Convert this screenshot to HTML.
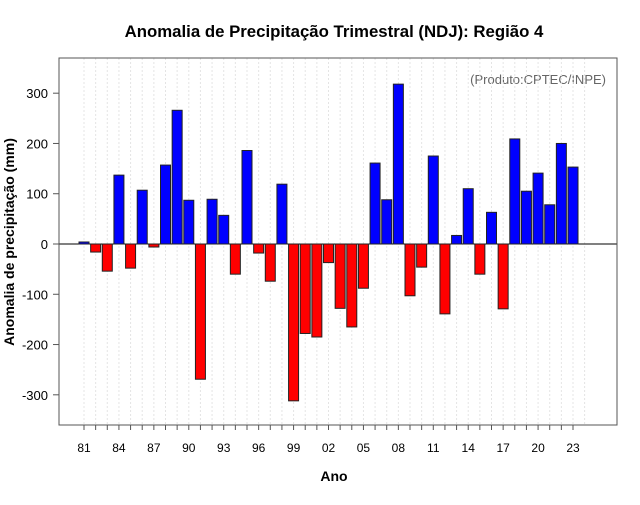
<!DOCTYPE html>
<html><head><meta charset="utf-8"><style>
body{margin:0;background:#fff;font-family:"Liberation Sans",sans-serif}
</style></head><body>
<svg id="c" width="640" height="500" xmlns="http://www.w3.org/2000/svg" font-family="Liberation Sans, sans-serif">
<text x="334" y="37" text-anchor="middle" font-size="16.8" font-weight="bold">Anomalia de Precipitação Trimestral (NDJ): Região 4</text>
<text x="334" y="481" text-anchor="middle" font-size="14" font-weight="bold">Ano</text>
<text transform="translate(14,242) rotate(-90)" text-anchor="middle" font-size="14" font-weight="bold">Anomalia de precipitação (mm)</text>
<text x="606" y="84" text-anchor="end" font-size="13" fill="#666">(Produto:CPTEC/INPE)</text>
<g id="grid"></g><g id="bars"></g><g id="axes"></g>
<rect x="59" y="58" width="558" height="367" fill="none" stroke="#555"/>
</svg>
<script>
const years=[81,82,83,84,85,86,87,88,89,90,91,92,93,94,95,96,97,98,99,0,1,2,3,4,5,6,7,8,9,10,11,12,13,14,15,16,17,18,19,20,21,22,23];
const values=[4,-16,-54,137,-48,107,-6,157,266,87,-269,89,57,-60,186,-18,-74,119,-312,-178,-185,-37,-128,-165,-88,161,88,318,-103,-46,175,-139,17,110,-60,63,-129,209,105,141,78,200,153];
const yTicks=[-300,-200,-100,0,100,200,300];
const NS="http://www.w3.org/2000/svg";
const xs=i=>84+i*11.643, ys=v=>244-v*0.5027;
function mk(t,a,p){const e=document.createElementNS(NS,t);for(const k in a)e.setAttribute(k,a[k]);p.appendChild(e);return e;}
const g=document.getElementById('grid'),b=document.getElementById('bars'),ax=document.getElementById('axes');
years.forEach((y,i)=>{
 const l=mk('line',{x1:xs(i),x2:xs(i),y1:58,y2:425,stroke:'#e4e4e4','stroke-dasharray':'2,2'},g);
 
 
});
mk('line',{x1:xs(42)+11.6,x2:xs(42)+11.6,y1:58,y2:425,stroke:'#e4e4e4','stroke-dasharray':'2,2'},g);
mk('line',{x1:59,x2:617,y1:ys(0),y2:ys(0),stroke:'#000'},g);
values.forEach((v,i)=>{
 const y0=ys(0),y1=ys(v);
 const r=mk('rect',{x:xs(i)-5,y:Math.min(y0,y1),width:10,height:Math.abs(y1-y0),fill:v>=0?'#0000ff':'#ff0000',stroke:'#222','stroke-width':1},b);
 
 
});
yTicks.forEach(t=>{
 mk('line',{x1:53,x2:59,y1:ys(t),y2:ys(t),stroke:'#555'},ax);
 const tx=mk('text',{x:48,y:ys(t)+5,'text-anchor':'end','font-size':13},ax);
 tx.textContent=t;
 
 
});
years.forEach((y,i)=>{
 mk('line',{x1:xs(i),x2:xs(i),y1:425,y2:430,stroke:'#555'},ax);
 if(i%3===0){
  const tx=mk('text',{x:xs(i),y:452,'text-anchor':'middle','font-size':12},ax);
  tx.textContent=String(y).padStart(2,'0');
  
  
 }
});
</script>
</body></html>
